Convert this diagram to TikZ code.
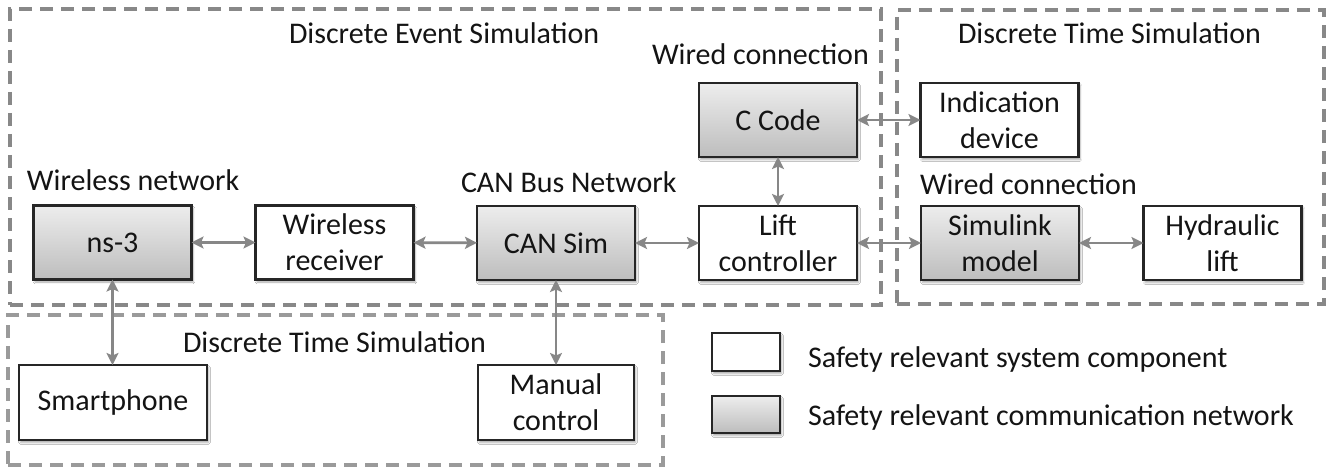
\documentclass[tikz,border=0pt]{standalone}
\usepackage{fontspec}
\setmainfont{Carlito}
\usetikzlibrary{arrows.meta,shadows.blur}
\definecolor{dashgray}{HTML}{888888}
\definecolor{dashgrayb}{HTML}{9A9A9A}
\definecolor{conngray}{HTML}{878787}
\definecolor{txt}{HTML}{141414}
\definecolor{gtop}{HTML}{EDEDED}
\definecolor{gbot}{HTML}{BDBDBD}
\begin{document}
\begin{tikzpicture}[x=1pt,y=-1pt,
  font=\fontsize{30}{36}\selectfont, text=txt,
  compbox/.style={draw=black!85, line width=2.4pt, fill=white, align=center,
    inner sep=0pt, outer sep=0pt, minimum width=158pt, minimum height=74pt,
    blur shadow={shadow xshift=1.5pt, shadow yshift=-2.5pt, shadow blur steps=4, shadow opacity=35}},
  netbox/.style={compbox, top color=gtop, bottom color=gbot},
  dashbox/.style={draw=dashgray, line width=3.6pt, dash pattern=on 13pt off 8pt, inner sep=0pt, outer sep=0pt},
  dashboxb/.style={dashbox, draw=dashgrayb, line width=3.2pt},
  lbl/.style={anchor=base west, inner sep=0pt, outer sep=0pt},
  conn/.style={draw=conngray, line width=2.6pt, {Stealth[length=12pt,width=12pt,inset=2.5pt]}-{Stealth[length=12pt,width=12pt,inset=2.5pt]}}
]
\useasboundingbox (0,0) rectangle (1330,468);
\fill[white] (0,0) rectangle (1330,468);

% containers
\node[dashbox, minimum width=871pt, minimum height=296pt] (des) at (445.5,157) {};
\node[dashbox, minimum width=427pt, minimum height=294pt] (dtsr) at (1110.5,157) {};
\node[dashboxb, minimum width=655pt, minimum height=150pt] (dtsb) at (335.5,390) {};

% container labels
\node[lbl] (desl) at (289,44) {Discrete Event Simulation};
\node[lbl] (dtsrl) at (958,44) {Discrete Time Simulation};
\node[lbl] (dtsbl) at (183,352) {Discrete Time Simulation};
\node[lbl] (wired1) at (652,65) {Wired connection};
\node[lbl] (wired2) at (920,194) {Wired connection};
\node[lbl] (canbus) at (461,192) {CAN Bus Network};
\node[lbl] (wless) at (27,190) {Wireless network};

% boxes
\node[netbox] (ns3) at (112.5,242.5) {ns-3};
\node[compbox] (wr) at (334.5,242.5) {Wireless\\receiver};
\node[netbox] (can) at (556,243) {CAN Sim};
\node[compbox] (lift) at (778,243) {Lift\\controller};
\node[netbox] (ccode) at (778,120) {C Code};
\node[compbox] (ind) at (999.5,120) {Indication\\device};
\node[netbox] (sim) at (1000,243) {Simulink\\model};
\node[compbox] (hyd) at (1222.5,243) {Hydraulic\\lift};
\node[compbox, minimum width=188pt, minimum height=75pt] (smart) at (113,402.5) {Smartphone};
\node[compbox, minimum width=156pt, minimum height=75pt] (man) at (556,402.5) {Manual\\control};

% connectors
\draw[conn] (ns3) -- (wr);
\draw[conn] (wr) -- (can);
\draw[conn] (can) -- (lift);
\draw[conn] (lift) -- (sim);
\draw[conn] (sim) -- (hyd);
\draw[conn] (ccode) -- (ind);
\draw[conn] (ccode) -- (lift);
\draw[conn] (ns3.south) -- (ns3.south |- smart.north);
\draw[conn] (can.south) -- (can.south |- man.north);

% legend
\node[compbox, minimum width=68pt, minimum height=38pt] (legc) at (746,352) {};
\node[netbox, minimum width=68pt, minimum height=37pt] (legn) at (746,414.5) {};
\node[lbl] (legct) at (808,367) {Safety relevant system component};
\node[lbl] (legnt) at (808,425) {Safety relevant communication network};
\end{tikzpicture}
\end{document}
